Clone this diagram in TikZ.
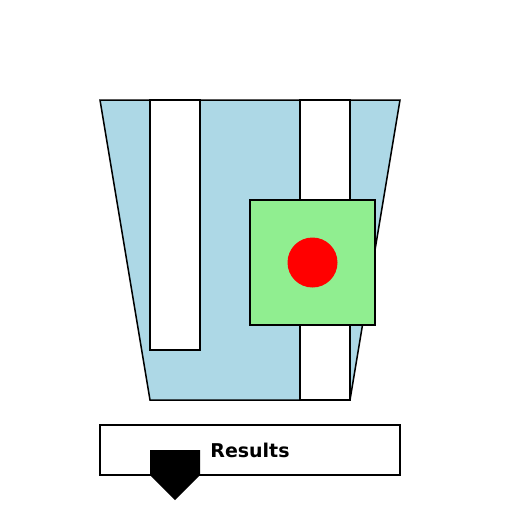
\documentclass[tikz,border=0pt]{standalone}
\usepackage{fontspec}
\setmainfont{DejaVu Sans}
\definecolor{lblue}{RGB}{173,216,230}
\definecolor{lgreen}{RGB}{144,238,144}
\begin{document}
\begin{tikzpicture}[x=1pt,y=-1pt,
  outl/.style={draw=black,line width=1.5pt,line join=miter},
  lbl/.style={font=\fontsize{19}{22}\selectfont\bfseries,inner sep=0pt}]
\useasboundingbox (0,0) rectangle (512,512);
\fill[white] (0,0) rectangle (512,512);
\path[outl,fill=lblue] (100,100) -- (400,100) -- (350,400) -- (150,400) -- cycle;
\path[outl,fill=white] (150,100) rectangle (200,350);
\path[outl,fill=white] (300,100) rectangle (350,400);
\path[outl,fill=lgreen] (250,200) rectangle (375,325);
\fill[red] (312.5,262.5) circle (25);
\node[outl,fill=white,minimum width=300pt,minimum height=50pt,inner sep=0pt] (res) at (250,450) {};
\fill[black] (150,450) -- (200,450) -- (200,475) -- (175,500) -- (150,475) -- cycle;
\node[lbl] (t) at (250,450) {Results};
\end{tikzpicture}
\end{document}
